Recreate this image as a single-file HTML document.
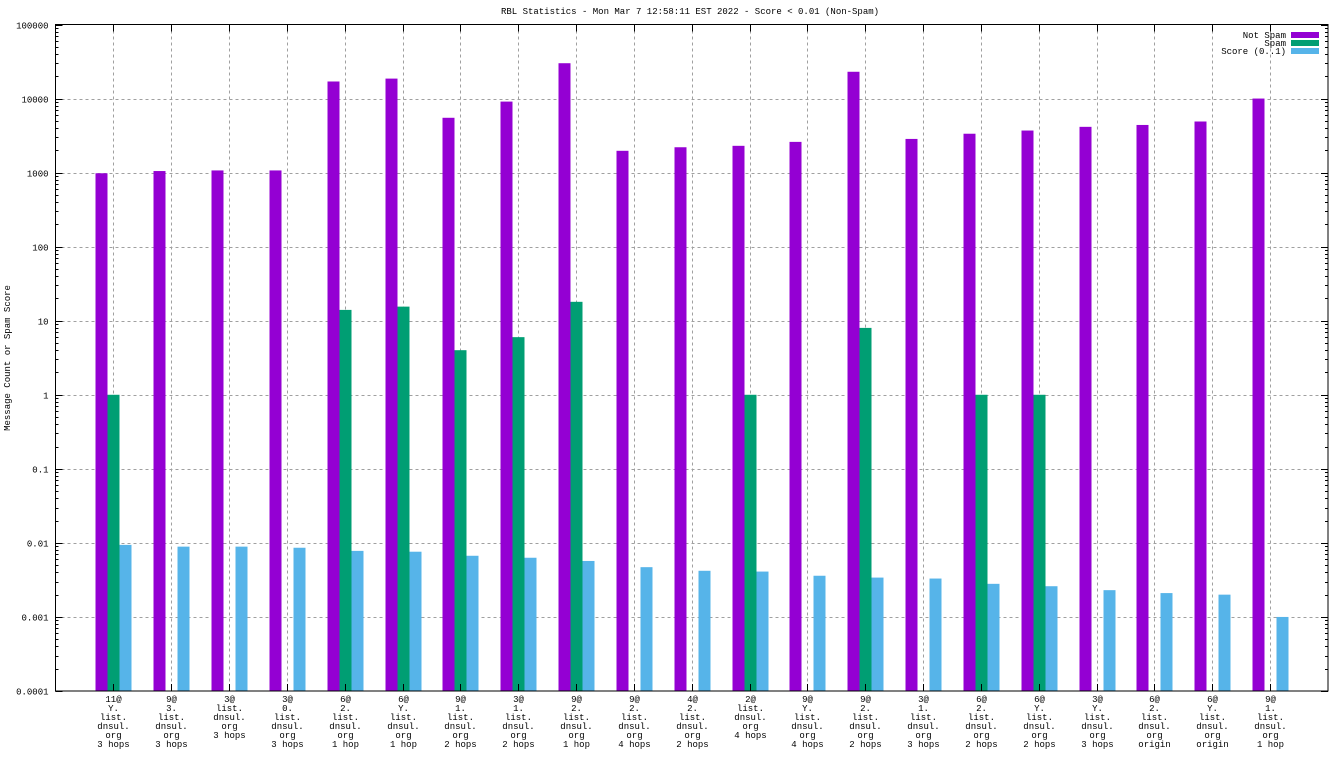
<!DOCTYPE html>
<html><head><meta charset="utf-8">
<style>
html,body{margin:0;padding:0;background:#fff;}
svg text{font-family:"Liberation Mono","DejaVu Sans Mono",monospace;font-size:9px;fill:#000;}
</style></head>
<body>
<svg id="chart" width="1344" height="756" xmlns="http://www.w3.org/2000/svg">
<text x="690" y="14" text-anchor="middle">RBL Statistics - Mon Mar  7 12:58:11 EST 2022 - Score &lt; 0.01 (Non-Spam)</text>
<text transform="translate(10,358) rotate(-90)" text-anchor="middle">Message Count or Spam Score</text>
<g id="grid"></g><g id="bars"></g><g id="axes"></g><g id="legend"></g>
</svg>
<script>
const categories = [
 ["11@","Y.","list.","dnsul.","org","3 hops"],
 ["9@","3.","list.","dnsul.","org","3 hops"],
 ["3@","list.","dnsul.","org","3 hops"],
 ["3@","0.","list.","dnsul.","org","3 hops"],
 ["6@","2.","list.","dnsul.","org","1 hop"],
 ["6@","Y.","list.","dnsul.","org","1 hop"],
 ["9@","1.","list.","dnsul.","org","2 hops"],
 ["3@","1.","list.","dnsul.","org","2 hops"],
 ["9@","2.","list.","dnsul.","org","1 hop"],
 ["9@","2.","list.","dnsul.","org","4 hops"],
 ["4@","2.","list.","dnsul.","org","2 hops"],
 ["2@","list.","dnsul.","org","4 hops"],
 ["9@","Y.","list.","dnsul.","org","4 hops"],
 ["9@","2.","list.","dnsul.","org","2 hops"],
 ["3@","1.","list.","dnsul.","org","3 hops"],
 ["6@","2.","list.","dnsul.","org","2 hops"],
 ["6@","Y.","list.","dnsul.","org","2 hops"],
 ["3@","Y.","list.","dnsul.","org","3 hops"],
 ["6@","2.","list.","dnsul.","org","origin"],
 ["6@","Y.","list.","dnsul.","org","origin"],
 ["9@","1.","list.","dnsul.","org","1 hop"]
];
const notSpam = [980,1050,1070,1070,17000,18600,5500,9100,30000,1970,2200,2300,2600,23000,2850,3350,3700,4150,4400,4900,10000];
const spam = [1,0,0,0,14,15.5,4,6,18,0,0,1,0,8,0,1,1,0,0,0,0];
const score = [0.0094,0.0089,0.0089,0.0086,0.0078,0.0076,0.0067,0.0063,0.0057,0.0047,0.0042,0.0041,0.0036,0.0034,0.0033,0.0028,0.0026,0.0023,0.0021,0.0020,0.001];
const yTicks = ["0.0001","0.001","0.01","0.1","1","10","100","1000","10000","100000"];

const NS="http://www.w3.org/2000/svg";
const L=55.5,R=1328,T=24.5,B=691;
const yMin=-4,yMax=5;
function y(v){return B-(Math.log10(v)-yMin)/(yMax-yMin)*(B-T);}
function x(i){return L+(R-L)/(categories.length+1)*(i+1);}
function mk(tag,attrs,parent){const e=document.createElementNS(NS,tag);for(const k in attrs)e.setAttribute(k,attrs[k]);parent.appendChild(e);return e;}
const grid=document.getElementById('grid'),bars=document.getElementById('bars'),axes=document.getElementById('axes'),leg=document.getElementById('legend');

yTicks.forEach((t,k)=>{
  const yy=Math.round(y(parseFloat(t)))+0.5;
  if(k>0&&k<yTicks.length-1){const g=mk('line',{x1:L,x2:R,y1:yy,y2:yy,stroke:'#a0a0a0','stroke-dasharray':'3,3'},grid);
  
  }
  const tl=mk('text',{x:L-7,y:yy+3,'text-anchor':'end'},axes);tl.textContent=t;
  
  
  mk('line',{x1:L,x2:L+7,y1:yy,y2:yy,stroke:'#000'},axes);
  mk('line',{x1:R,x2:R-7,y1:yy,y2:yy,stroke:'#000'},axes);
  if(k<yTicks.length-1){for(let m=2;m<10;m++){const my=Math.round(y(parseFloat(t)*m))+0.5;
    mk('line',{x1:L,x2:L+3,y1:my,y2:my,stroke:'#000'},axes);mk('line',{x1:R,x2:R-3,y1:my,y2:my,stroke:'#000'},axes);}}
});

const bw=12;
categories.forEach((c,i)=>{
  const cx=Math.round(x(i))+0.5;
  const g=mk('line',{x1:cx,x2:cx,y1:T,y2:B,stroke:'#a0a0a0','stroke-dasharray':'3,3'},grid);
  
  
  mk('line',{x1:cx,x2:cx,y1:B,y2:B-7,stroke:'#000'},axes);
  mk('line',{x1:cx,x2:cx,y1:T,y2:T+7,stroke:'#000'},axes);
  const series=[[notSpam[i],'#9400d3','bar-not-spam'],[spam[i],'#009e73','bar-spam'],[score[i],'#56b4e9','bar-score']];
  series.forEach((s,j)=>{
    if(s[0]>0){const top=y(s[0]);
      const r=mk('rect',{x:cx-18+j*bw,y:top,width:bw,height:B-top,fill:s[1]},bars);
      
      }
  });
  const tx=mk('text',{x:cx,y:B+11,'text-anchor':'middle'},axes);
  
  
  c.forEach((ln,k)=>{const ts=mk('tspan',{x:cx,dy:k?9:0},tx);ts.textContent=ln;});
});
const frame=mk('rect',{x:L,y:T,width:R-L,height:B-T,fill:'none',stroke:'#000'},axes);



const legendItems=[["Not Spam",'#9400d3'],["Spam",'#009e73'],["Score (0..1)",'#56b4e9']];
legendItems.forEach((it,k)=>{
  const yy=35+k*8;
  const t=mk('text',{x:1286,y:yy+3,'text-anchor':'end'},leg);t.textContent=it[0];
  
  
  const r=mk('rect',{x:1291,y:yy-3,width:28,height:6,fill:it[1]},leg);
  
  
});
</script>
</body></html>
